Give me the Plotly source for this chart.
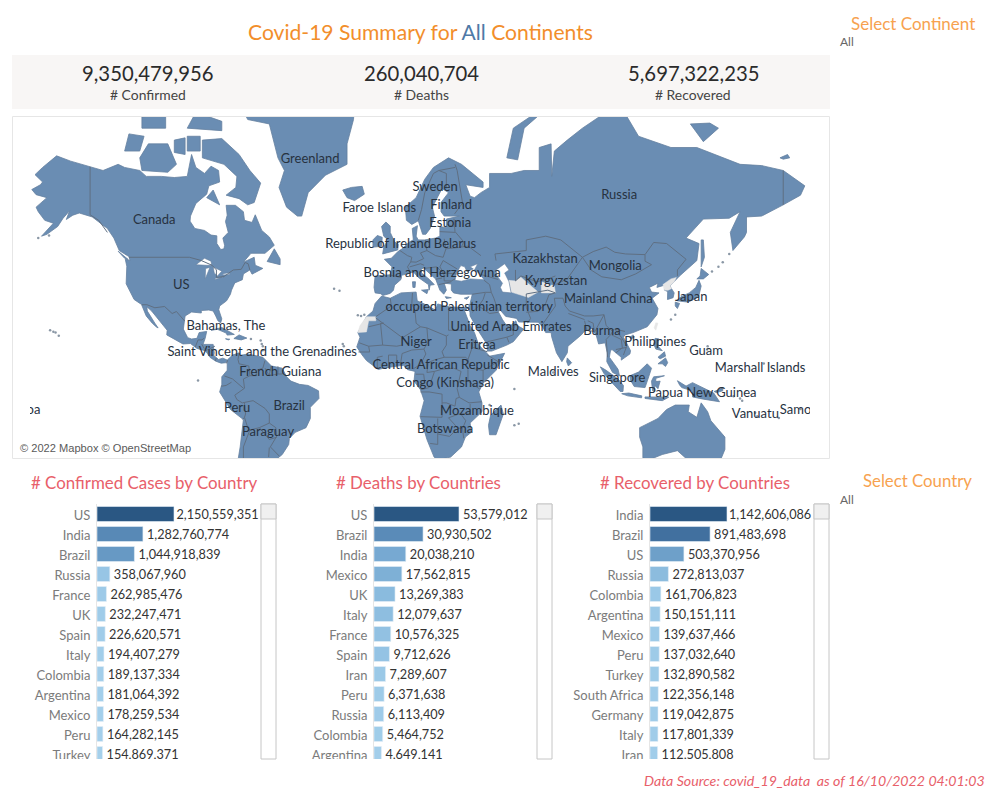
import numpy as np
import plotly.graph_objects as go

FONT = "Lato"
W, H = 1002, 802

# ---------- bar chart data ----------
confirmed_countries = ["US","India","Brazil","Russia","France","UK","Spain","Italy","Colombia","Argentina","Mexico","Peru","Turkey"]
confirmed_values = [2150559351,1282760774,1044918839,358067960,262985476,232247471,226620571,194407279,189137334,181064392,178259534,164282145,154869371]
deaths_countries = ["US","Brazil","India","Mexico","UK","Italy","France","Spain","Iran","Peru","Russia","Colombia","Argentina"]
deaths_values = [53579012,30930502,20038210,17562815,13269383,12079637,10576325,9712626,7289607,6371638,6113409,5464752,4649141]
recovered_countries = ["India","Brazil","US","Russia","Colombia","Argentina","Mexico","Peru","Turkey","South Africa","Germany","Italy","Iran"]
recovered_values = [1142606086,891483698,503370956,272813037,161706823,150151111,139637466,137032640,132890582,122356148,119042875,117801339,112505808]
kpi_values = ["9,350,479,956","260,040,704","5,697,322,235"]
kpi_names = ["# Confirmed","# Deaths","# Recovered"]

# ---------- map labels: name, longitude, mercator y ----------
label_names = ["Greenland","Sweden","Faroe Islands","Finland","Estonia","Republic of Ireland","Belarus","Canada","Russia","Kazakhstan","Mongolia","Kyrgyzstan","Bosnia and Herzegovina","Mainland China","Japan","US","occupied Palestinian territory","United Arab Emirates","Burma","Bahamas, The","Saint Vincent and the Grenadines","Niger","Eritrea","Philippines","Guam","Marshall Islands","Central African Republic","Maldives","French Guiana","Singapore","Congo (Kinshasa)","Papua New Guinea","Peru","Brazil","Mozambique","Vanuatu","Samoa","Samoa","Paraguay","Botswana"]
label_lon = [-39.1,18.8,-7.1,26.2,25.8,-7.6,28,-111.3,104,69.7,102.2,74.8,17.4,99,137.4,-98.8,34.6,54,96.1,-78.1,-61.3,10,38.2,120.7,144.3,169.3,21.6,73.5,-52.9,103.1,23.4,142.5,-72.9,-48.8,38.2,167.1,187.2,-172.8,-58.6,23.4]
label_merc = [1.771,1.544,1.374,1.399,1.254,1.083,1.083,1.277,1.480,0.963,0.906,0.784,0.849,0.639,0.655,0.752,0.574,0.412,0.380,0.421,0.210,0.291,0.267,0.291,0.218,0.081,0.105,0.049,0.049,0.000,-0.040,-0.121,-0.242,-0.226,-0.267,-0.291,-0.258,-0.258,-0.436,-0.412]

# ---------- map outlines (lon, lat) ----------
north_america = [(-168,65.6),(-164,66.5),(-163,67),(-166.5,68.3),(-163,69.5),(-156.5,71.3),(-150,70.5),(-141,69.6),(-135,69),(-128,70),(-125,69.5),(-118,69),(-115,68),(-108,68),(-102,67.8),(-96,68),(-94,71.5),(-92,69.5),(-88,68.5),(-85,69.7),(-81.5,69),(-81,67),(-86,66.3),(-87,64.7),(-92,62.8),(-94.5,60),(-94.7,58.8),(-92.5,57),(-88,56.5),(-85,55.3),(-82.3,55.1),(-82.3,53),(-80.5,51.3),(-79,51.5),(-78.7,52.5),(-79.5,54.5),(-77,56),(-78.3,58.7),(-77.5,60.2),(-78,62.4),(-73.7,62.4),(-70,61),(-69.5,59),(-66,58.5),(-64.5,60.3),(-61.5,56.5),(-58,54.8),(-55.7,52.5),(-60,50.2),(-66.5,50.2),(-70,47.5),(-65,49),(-64.5,46.5),(-61,45.5),(-66,43.6),(-67,45),(-70,43.7),(-70.5,41.7),(-74,40.6),(-75.5,38),(-76,36.5),(-77.8,34),(-81,32),(-81.4,30.5),(-80,26.8),(-80.5,25.2),(-81.8,26),(-82.8,28),(-84,30),(-86,30.4),(-89.5,30.2),(-89.5,29.2),(-91.5,29.5),(-94,29.6),(-97,28),(-97.5,25),(-97.8,22.5),(-95.8,18.8),(-94,18.2),(-91.5,18.5),(-90.5,21),(-87,21.5),(-87.7,18.5),(-88.7,15.8),(-84,15.8),(-83.5,12),(-83.7,10.8),(-81.5,9),(-79.5,9.6),(-77.5,8.7),(-78.2,7.5),(-80.3,7.3),(-82.8,8.2),(-85.5,10),(-87.5,12.9),(-91.5,14),(-94.5,16.2),(-98,16),(-102,18),(-105.5,20),(-105.3,22),(-109,26),(-112.5,30),(-114.7,31.7),(-114.5,30),(-111,25),(-109.5,23),(-110.3,23.4),(-112.2,25),(-115,28),(-116,30.5),(-117.2,32.6),(-120.6,34.5),(-122,37),(-124.3,40.3),(-124,46.2),(-124.7,48.4),(-122.5,48),(-123,49.2),(-127.5,51),(-130,54.5),(-133,57),(-137,58.7),(-140,59.8),(-146,60.7),(-149,60.2),(-152,59.2),(-150.5,61.2),(-153.5,59.5),(-156,57.5),(-161,55.5),(-163.5,55),(-158,58.3),(-162,59),(-165,61),(-166,62),(-161,64),(-166,64.6)]
baffin = [(-80,73.7),(-72,71.5),(-67,69),(-62,66.8),(-65,63),(-68,62.5),(-72,63.8),(-78,64.5),(-73.5,66),(-73,68),(-79,70),(-89,71),(-89,73.5)]
victoria = [(-117,69),(-105,68.7),(-101,70),(-105,73),(-114,73),(-118,71)]
banks = [(-125,72),(-118,72),(-116,74),(-123,74.3)]
melville = [(-117,75),(-106,75),(-106,76.5),(-117,76.3)]
devon = [(-96,75),(-80,74.7),(-80,75.8),(-92,76.8)]
ellesmere = [(-90,76.5),(-78,76.5),(-75,78.5),(-62,82),(-70,83.1),(-90,82),(-92,80)]
somerset = [(-96,72),(-90,72),(-90,74),(-96,74)]
prince_of_wales = [(-102,71.8),(-97,71.5),(-97,73.8),(-102,73.5)]
southampton = [(-87,64),(-81,62.5),(-84,65.5)]
newfoundland = [(-59,47.7),(-53,46.7),(-53,48.5),(-55.7,51.5)]
vancouver = [(-128,50.8),(-123.3,48.3),(-125,48.7)]
greenland = [(-73,78.2),(-68,76),(-58,75.5),(-54,71),(-51,69),(-53.5,66),(-50,62),(-45,60),(-43,60),(-40,65),(-32,68.2),(-22,70),(-22,73),(-19,76),(-18,79.5),(-12,81.5),(-30,83.6),(-60,82.5),(-65,81)]
iceland = [(-24,65.5),(-22,64),(-18.5,63.4),(-14,64.7),(-15,66.2),(-20,66)]
cuba = [(-85,22),(-80,23.2),(-74.2,20.2),(-77.5,19.9),(-78,20.8),(-82,22.4)]
hispaniola = [(-74.4,18.4),(-72,20),(-68.4,18.6),(-71,17.8)]
jamaica = [(-78.3,18.3),(-76.3,18.1),(-77,17.8)]
south_america = [(-77.5,8.7),(-75,11),(-72,12),(-71.5,10.8),(-68,11.5),(-64,10.5),(-61,10),(-57,6),(-52,5),(-50,1),(-48,-1),(-44,-2.5),(-40,-3),(-35.2,-5.5),(-35,-9),(-39,-13),(-39,-18),(-41,-22),(-46,-24),(-48.7,-26.5),(-49,-29),(-52,-33),(-55,-35),(-58,-34.5),(-57,-37),(-62,-39),(-65,-42),(-67,-46),(-68,-54),(-74,-51),(-73.5,-40),(-71.5,-30),(-70,-18.5),(-76,-14),(-81,-6),(-80,-2.5),(-80,1),(-77.5,4),(-77.5,7)]
africa = [(-6,35.8),(-2,35),(3,37),(10,37.3),(10.5,34),(15,32.3),(19,30.3),(20,32.8),(25,31.7),(32,31.2),(34.2,31.3),(32.5,29.9),(35,24),(37,21),(39,15.5),(43,11.6),(44,10.5),(51,11.8),(47,4),(41,-2),(39,-6),(40.5,-11),(40.5,-15),(35,-20),(35.5,-24),(32.8,-26),(31,-30),(26,-34),(20,-35),(18.3,-34),(15,-27),(11.8,-17),(13.7,-10),(12,-5),(9,-1),(9.5,3.5),(6,4.3),(4,6.3),(1,6),(-4,5.2),(-7.5,4.4),(-13,8.5),(-15,11),(-17.5,14.7),(-16,19),(-17,21),(-13,27.7),(-10,30),(-9,33)]
madagascar = [(49.3,-12),(50.4,-16),(47,-25),(44,-25),(43.5,-21),(44.5,-16.5)]
eurasia = [(-9,37),(-9.5,39),(-9,43),(-2,43.4),(-1.2,46),(-4.7,48.4),(-1.5,48.7),(1.7,50.8),(3.5,51.5),(7,53.5),(8.7,54),(8.2,57),(10.6,57.7),(10,55),(11,54),(14,54),(19,54.5),(21,55),(21,57.5),(24,57.2),(24,59.3),(30,60),(23,60),(21.5,61),(21.5,63),(25,65),(22,65.8),(17.5,62),(18.5,60),(16.5,57),(14.5,55.5),(13,55.5),(11,58.9),(8,58),(5.5,59),(5,62),(10,64),(14,67.5),(18,69.5),(25,71),(31,70),(41,67),(41,66),(33,66.5),(35,64.3),(37,64),(40,65),(44,66),(44,68.5),(54,68.5),(60,69),(67,69),(67,72.5),(72.5,73),(72.8,68),(74,72),(80,73.5),(87,75),(104,77.7),(113,74),(128,72.5),(140,72.5),(160,70),(170,69.8),(180,69),(190,66.3),(188,64.5),(180,62.5),(170,60),(163,59.8),(163,56),(162,54.8),(156.7,51),(155.5,56),(160,61),(155,59.5),(143,59.3),(135,54.5),(141,53),(140,48),(132,43),(129.5,41),(127.5,39.5),(129.5,37),(129,35.2),(126.4,34.5),(126.5,37.5),(125,38),(125,39.8),(121.5,39),(122,40.5),(118,39),(119,37.3),(122.5,37),(119.3,35),(122,31),(121.5,28.5),(117,23.5),(110.5,21),(106.7,20),(106,19),(109.3,13),(109,11.5),(105,8.7),(105,10),(100.7,13.5),(100,13),(99.5,10),(103.5,4.5),(104.2,1.4),(101,3),(98.3,8),(98.5,12),(97.5,16.5),(94.5,16),(93.5,19.5),(91.5,22.7),(88,21.7),(86.5,20),(80.3,15),(80,12),(77.5,8),(75,12),(72.8,19),(72.5,21),(70,21),(68.5,23.5),(66.5,25.4),(57.5,25.5),(56.5,27),(51.5,27.8),(49,30.3),(48,29.8),(50,26.5),(51.5,24.5),(54,24.2),(56.2,26),(56.8,24),(59.8,22.5),(55,17),(52,15.5),(45,12.8),(43,12.8),(42.7,16),(39,21.5),(35,28),(34.9,29.5),(34.2,31.3),(35,33),(36,36.5),(30.5,36.5),(27.3,37),(26.3,38),(26.3,40.2),(23,40.5),(24,38),(22.8,36.5),(21,38),(19.4,41),(19,42),(13.5,45.6),(12.3,45.3),(12.5,44),(16,41.9),(18.4,40),(16.5,39.8),(16,38),(15.7,40),(11,42.5),(8.8,44.3),(3.2,43.2),(3,41.8),(0,39.8),(-0.5,38),(-2,36.8),(-5.5,36),(-6.3,36.7)]
britain = [(-5.5,50),(1.5,51.2),(1.7,52.8),(0,53.5),(-2,56),(-2,57.6),(-4,58.6),(-6,57.5),(-5,55),(-3,54),(-5,52)]
ireland = [(-10,52),(-6,52.2),(-5.7,54.7),(-8,55.2),(-10,54)]
novaya_zemlya = [(52,71),(57,70.7),(60,75),(68,76.7),(64,76.5),(55,75)]
svalbard = [(14,77),(22,78),(27,80),(18,80.3),(11,79)]
wrangel = [(178.5,71),(182,71.5),(183,71),(180,70.8)]
new_siberian = [(137,75.5),(143,73.3),(150,75),(146,75.6)]
honshu = [(130.9,34),(136,33.5),(140.8,35.5),(142,39.5),(141,41.5),(139.5,39),(136.5,37),(132.5,35.5)]
hokkaido = [(140,42),(143,42),(145.5,43.5),(142,45.5),(141.5,43)]
kyushu = [(130,33.5),(132,33),(131,31),(130,32)]
sakhalin = [(142,46),(143.5,49),(143,54),(142,54),(142,50)]
sri_lanka = [(80,9.7),(82,7.5),(80.5,6),(79.7,8)]
hainan = [(109,19),(110.5,20),(111,19),(109.5,18.2)]
luzon = [(120,16),(120.7,18.5),(122.3,18.3),(122,15),(124,13),(121,13.7)]
mindanao = [(122,7),(125.5,9.7),(126.5,7.5),(125.5,5.8),(124,7)]
visayas = [(122,10),(125,12.5),(125.5,10.5),(123,9.3)]
sumatra = [(95.3,5.6),(98,4),(103.5,0),(106,-3),(105.8,-5.8),(104.5,-5.8),(100.5,-1.5),(97,2.5)]
java = [(105.2,-6.8),(108.5,-6.5),(114.5,-7.8),(114.4,-8.7),(108,-7.8)]
borneo = [(109,1.5),(113,3.2),(117,7),(119,5),(117.7,1),(116,-4),(111,-3.5),(109.2,-0.5)]
sulawesi = [(119.5,-5.5),(119,-1),(120,1),(125,1.5),(121,0.3),(121,-1.2),(123,-1),(122,-4.5),(120.5,-3),(120.4,-5.5)]
new_guinea = [(131,-0.8),(135,-3.3),(138,-1.7),(145,-5),(147.8,-6.5),(150.5,-10.5),(147,-10),(143,-9.3),(138,-8.3),(138,-5.5),(133,-4),(132,-2.8)]
new_britain = [(148,-5.8),(152,-4.2),(152,-5.5),(149,-6.3)]
sunda = [(116,-8.3),(123,-8.3),(125,-8.5),(127,-8.4),(124,-10),(120,-9.5),(116,-9)]
australia = [(113.5,-22),(122,-18),(126,-14),(130,-12),(136.5,-12),(136,-15),(140,-17.5),(142,-11),(145,-15),(146.5,-19),(153,-26),(153,-31),(150,-37),(146,-39),(140,-38),(138,-35),(136,-35),(135,-34.5),(131,-31.5),(124,-33),(118,-35),(115,-34.3),(115,-30),(113.5,-26)]
sicily = [(12.5,38),(15.6,38.2),(15,36.7)]
sardinia = [(8.3,41),(9.7,41),(9.5,39),(8.5,39)]
crete = [(23.5,35.6),(26.3,35.2),(24,34.9)]
cyprus = [(32.3,35),(34.5,35.6),(33.5,34.6)]
land_shapes = [north_america,baffin,victoria,banks,melville,devon,ellesmere,somerset,prince_of_wales,southampton,newfoundland,vancouver,greenland,iceland,cuba,hispaniola,jamaica,south_america,africa,madagascar,eurasia,britain,ireland,novaya_zemlya,svalbard,wrangel,new_siberian,honshu,hokkaido,kyushu,sakhalin,sri_lanka,hainan,luzon,mindanao,visayas,sumatra,java,borneo,sulawesi,new_guinea,new_britain,sunda,australia,sicily,sardinia,crete,cyprus]

western_sahara = [(-13,27.7),(-8.7,27.7),(-8.7,26),(-12,26),(-13,21.3),(-17,21),(-16,24)]
turkmenistan = [(52.8,41.5),(56,41.3),(58.5,42.6),(61,41),(66,38),(66.5,37.3),(62,35.3),(54,37.3)]
tajikistan = [(68,37),(74.5,37),(74,39.5),(68,41)]
north_korea = [(124.3,40),(128,42),(130.5,42.5),(129.5,41),(127.5,39.5),(128.3,38.6),(126.7,38),(125,38)]
taiwan = [(120.2,23),(121,22),(122,25),(121,25.2)]
no_data_shapes = [western_sahara,turkmenistan,tajikistan,north_korea,taiwan]

black_sea = [(28,41.5),(31,41.2),(35,42),(41.5,41.7),(39,44),(37,45),(38.5,47),(35,46),(36.5,45.3),(33.5,44.5),(32.5,46),(30.7,46.4),(28.7,44)]
caspian = [(47,45),(51,47),(53,45),(51,44),(53,41),(54,37),(50,37.3),(49,39),(50,40.5),(47.5,43)]
superior = [(-92,46.7),(-88,48.7),(-85,47.8),(-84.7,46.5),(-87,46.5)]
michigan = [(-87.7,42),(-85.5,45.8),(-87.5,45.5)]
huron = [(-84,46),(-80,44.6),(-82,43),(-83.5,44)]
erie = [(-83.3,41.7),(-79,42.8),(-79.5,42.6),(-83,42.2)]
ontario = [(-79.7,43.3),(-76.3,43.5),(-76.5,44.1),(-79,43.8)]
water_shapes = [black_sea,caspian,superior,michigan,huron,erie,ontario]

border_lines = [
 [(-141,69.6),(-141,60.3),(-137,59),(-133,56)],
 [(-123,49),(-95,49),(-89.5,48),(-84.5,46.5),(-82.5,45),(-82.5,42.5),(-79,42.8),(-76.5,44),(-74.7,45),(-71,45.2),(-69.2,47.4),(-67.8,47),(-67,45)],
 [(-117,32.5),(-114.7,32.5),(-111,31.3),(-108,31.5),(-106.5,31.8),(-103,29),(-101,29.8),(-97.2,25.9)],
 [(-92.3,14.6),(-91,17.8),(-89.2,17.8),(-88.3,18.5)],[(-89.3,15.9),(-88.2,14)],[(-87.5,13),(-83.2,15)],[(-85.7,11),(-83.7,11)],[(-83,8.3),(-82.6,9.6)],
 [(-77.3,8.6),(-77.9,7.2)],[(-72,12),(-72.5,9),(-72,7),(-67.5,6),(-67,1.5)],[(-60,8.5),(-61,5),(-64,4),(-64,1.5),(-67,1.5)],[(-57.2,6),(-58,2)],[(-54,5.8),(-54,2.3)],[(-60,5),(-58,1.5),(-54,2.3),(-52,2.3),(-51.7,4)],
 [(-67,1.5),(-70,0),(-69.5,-4.3),(-74,-7.5),(-73,-9.5),(-70.5,-11),(-65.5,-10),(-60,-13.5),(-58,-16),(-58,-20),(-55,-22),(-54.5,-25.5),(-57.5,-30),(-53.3,-33.7)],
 [(-78.8,1.4),(-75,0),(-70,-4.3)],[(-80.3,-3.4),(-78,-3),(-75.5,-1.5)],[(-69.5,-11),(-69,-16),(-69.5,-17.5),(-70.4,-18.4)],[(-69.5,-17.5),(-68,-22),(-67,-23)],[(-67,-23),(-70,-30),(-70,-35),(-71,-40)],[(-62.6,-22),(-58,-27),(-54.5,-26)],[(-67,-23),(-62.6,-22),(-58,-20)],[(-58.3,-34),(-58,-30.2)],
 [(-2,35),(-1.5,32),(-8.7,27.7)],[(8.3,37),(8,33),(9.5,30),(11.5,32)],[(9.5,30),(10,25),(12,23.5)],[(25,31.7),(25,22)],[(25,20),(24,19.5)],[(24,19.5),(15,23),(12,23.5)],[(12,23.5),(4,19),(3.3,19),(-5,25),(-8.7,27.2)],[(-12,23.5),(-5,25),(-6.5,25),(-5.5,15.5),(-12,15),(-16.3,16.5)],[(3.3,19),(3.5,15.5),(1,15),(-5.5,15.5)],[(3.5,11.7),(8,13.3),(13.6,13.7),(15.5,16.9),(15,23)],[(24,19.5),(24,15.5),(22,12.5),(23,10)],[(15.5,7.5),(18.5,8.8),(23,10)],[(8.7,4.7),(12,6.7),(14.5,11.5),(13.6,13.7)],[(15.5,7.5),(15,3)],[(15,3),(18.5,3.5),(22,4.5),(27.4,5),(30.8,3.5),(29.6,-1),(29,-4.5),(30,-8.5),(28.5,-9),(28,-12.5),(24,-11),(22,-11),(22,-7),(16,-6),(12,-6)],[(18.5,3.5),(16,-4),(12.2,-5)],[(9.8,2.2),(13.5,2.2),(14,-2),(11,-3.5)],[(23,10),(33,10),(34,9)],[(25,22),(36.8,22)],[(36,14.5),(34,9),(35,5),(41,4),(48,8),(43,11)],[(36.5,18),(36,14.5),(43,12.5)],[(34,4.5),(34,-1),(39.5,-4.7)],[(41,-1.7),(41,4)],[(34,-1),(29.6,-1)],[(30,-8.5),(34.5,-11),(40.4,-10.5)],[(22,-11),(22,-17.5),(12,-17.2)],[(20,-18),(20,-24.7),(20,-29),(16.5,-28.6)],[(20,-24.7),(25.5,-25.7),(29.3,-22.2)],[(25,-17.7),(29.3,-22.2),(31.5,-22.3),(33,-19),(30.5,-15.8),(25,-17.7)],[(30.5,-15.8),(35,-16),(35,-11.5)],[(31.5,-22.3),(32,-26.5)],[(-8,4.5),(-8,10),(-5.5,10.5)],[(-2.8,5),(-2.8,11),(1,11),(1,6)],[(2.7,6.4),(3.5,11.7)],[(-16.7,12.4),(-11.5,12.4),(-12,15)],
 [(-1.8,43.3),(3.2,42.4)],[(2.5,51),(6,49.5),(8,49),(7.5,47.6),(6,46),(7.5,44)],[(14.2,54),(15,51),(12,50.3),(13.5,48.6),(10,47.5),(7.5,47.6)],[(23,54.3),(23.8,51.5),(22.5,49),(19,49.5),(15,51)],[(7,46),(12,47),(13.7,46.5)],[(40,49.5),(34,52.3),(31,52),(23.8,51.5)],[(22.5,48),(29,45.3)],[(22.5,48),(21,46),(22.8,44),(28.5,43.7)],[(22.8,44),(23,41.3),(26.3,41.3),(28,42)],[(20.5,40),(26.3,41)],[(13.7,45.5),(19.5,46),(22.5,44)],[(19.2,41.9),(22,42.3)],[(31,52),(32,53.5),(28,56.2),(27.5,59.4)],[(24.4,58),(27.5,57.5)],[(21,56.2),(28,56)],[(27.8,60.5),(31.5,62.9),(29,69),(28,70)],[(11,59),(12.5,61.5),(14,65),(18,68.5),(20.5,69),(28,69.5)],[(24,65.8),(24,68.5),(20.5,69)],
 [(36,36.5),(42,37.2),(44.8,37.2)],[(44.8,37.2),(44,40),(41.5,41.5)],[(44.8,37.2),(46,35),(48,30)],[(48,29.5),(44,29),(39,32),(36,29.5)],[(42,37),(41,34.5),(39,32)],[(43,17),(52,19),(55,20),(55,22),(52,24)],[(55,22),(56,24.5)],[(52,19),(53,16.7)],[(61,36.6),(61,31.5),(63,27),(61.6,25)],[(61,29.5),(66.5,29.9),(70,33),(71.5,36.3),(74.5,37)],[(61,36.6),(66.5,37.3),(71,38),(74.5,37)],[(68,23.8),(71,27.5),(74.5,32),(74,35),(78,35)],[(78,35),(79,32),(81,30),(88,28),(92,28),(97,28.5)],[(80.5,29),(88,26.5)],[(88,26),(89,22),(92.5,21.5),(92,25),(89.5,26)],[(97,28.5),(94.5,24.5),(92.5,21)],[(97,28.5),(98,24),(101,21.5),(101.5,22.5)],[(102,22.5),(105,19),(107.5,15),(106,11)],[(101,21.5),(100,20),(98,18),(98.7,10)],[(100.5,20),(105,18),(105.5,14.3),(102.5,12)],[(102.5,13.5),(107.5,14.5)],[(102,22.5),(106.7,21.5)],
 [(47,48),(46.5,50),(61,51),(61,54),(70,55),(77,54),(87,49)],[(87,49),(80,42),(74.5,40)],[(87,49),(91,45),(96,42.7),(105,41.7),(111.7,43.7),(119,46.7),(116,47.8),(116,49.8)],[(87,49),(92,50.7),(98,52),(102,50.5),(107,50),(116,49.8)],[(116,49.8),(120,53.3),(126,53),(135,48.4),(131,45),(131,43)],[(56,45),(56,41.3),(58.5,43),(66,41),(71,42),(74.5,43)],[(40,43.5),(48,41.8)],[(180,69),(180,62.5)],
]

small_islands_lon = [-155.5,-157,-158,-159.5,-91,-15.5,-14,-17,-25.5,-28,-24,-23.5,157,160,161,167,168,178,188,-61,-61,-61.5,57.5,55.5,44,55.5,-165,-160,147,150,152,155,145,144.8,128,130,73.5,171,-66.5,-62]
small_islands_lat = [19.6,21,21.4,22,-0.7,28,28.5,28.3,37.8,38.5,16,15,-8,-9,-10,-15.5,-17,-17.8,-13.8,13.2,15,16,-20.3,-21,-12,-4.7,54.5,55.2,44.5,46,47.5,50,15,13.5,26.5,28.5,3,7.1,18.2,17.5]

def merc(lat):
    return np.log(np.tan(np.pi / 4 + np.radians(np.asarray(lat, float)) / 2))

def coords(shapes, close=True):
    xs, ys = [], []
    for s in shapes:
        pts = list(s) + ([s[0]] if close else [])
        xs += [p[0] for p in pts] + [None]
        ys += [float(merc(p[1])) for p in pts] + [None]
    return xs, ys

def xp(x): return x / W
def yp(y): return 1 - y / H

fig = go.Figure()
MAP_BLUE = "#6a8db3"
BORDER = "#5f6f82"

x, y = coords(land_shapes)
fig.add_trace(go.Scatter(x=x, y=y, mode="lines", fill="toself", fillcolor=MAP_BLUE, line=dict(color="#64809f", width=0.8), xaxis="x", yaxis="y"))
x, y = coords(no_data_shapes)
fig.add_trace(go.Scatter(x=x, y=y, mode="lines", fill="toself", fillcolor="#e6e6e6", line=dict(color="#e6e6e6", width=0.5), xaxis="x", yaxis="y"))
x, y = coords(water_shapes)
fig.add_trace(go.Scatter(x=x, y=y, mode="lines", fill="toself", fillcolor="#ffffff", line=dict(color="#64809f", width=0.6), xaxis="x", yaxis="y"))
x, y = coords(border_lines, close=False)
fig.add_trace(go.Scatter(x=x, y=y, mode="lines", line=dict(color=BORDER, width=1), xaxis="x", yaxis="y"))
fig.add_trace(go.Scatter(x=small_islands_lon, y=merc(small_islands_lat), mode="markers", marker=dict(color="#8a97a5", size=2.5), xaxis="x", yaxis="y"))
fig.add_trace(go.Scatter(x=label_lon, y=label_merc, mode="text", text=label_names, textposition="middle center",
                         textfont=dict(family=FONT, size=13, color="#27323f"), xaxis="x", yaxis="y"))

blue_scale = [[0,"#b0d8f0"],[0.17,"#96c5e5"],[0.37,"#78aad2"],[0.58,"#5a8bb8"],[0.78,"#41709f"],[1,"#2a5783"]]
charts = [
    (confirmed_countries, confirmed_values, 97, 261, 77, 2.5),
    (deaths_countries, deaths_values, 374, 537, 85, 4.0),
    (recovered_countries, recovered_values, 650, 814, 77, 2.0),
]
layout_axes = {}
for i, (names, vals, x0, x1, bar_px, first_gap) in enumerate(charts, start=2):
    xmax = vals[0] * (x1 - x0) / bar_px
    ranks = list(range(len(names)))
    per_px = xmax / (x1 - x0)
    gaps = [first_gap] + [4.0] * (len(vals) - 1)
    fig.add_trace(go.Bar(
        x=vals, y=ranks, orientation="h", width=0.75,
        marker=dict(color=vals, colorscale=blue_scale, cmin=0, cmax=vals[0], line=dict(color="#e4eef6", width=0.6)),
        xaxis=f"x{i}", yaxis=f"y{i}"))
    fig.add_trace(go.Scatter(
        x=[v + g * per_px for v, g in zip(vals, gaps)], y=[r + 0.09 for r in ranks], mode="text", text=[f"{v:,}" for v in vals], textposition="middle right",
        textfont=dict(family=FONT, size=12.7, color="#333333"), xaxis=f"x{i}", yaxis=f"y{i}"))
    layout_axes[f"xaxis{i}"] = dict(domain=[xp(x0), xp(x1)], range=[0, xmax], visible=False, fixedrange=True, anchor=f"y{i}", automargin=False)
    layout_axes[f"yaxis{i}"] = dict(domain=[yp(759), yp(504)], tickmode="array", tickvals=ranks, ticktext=names,
                                    range=[12.25, -0.5], anchor=f"x{i}", showgrid=False, zeroline=False, automargin=False,
                                    showline=True, linecolor="#e6e6e6", linewidth=1, ticks="outside", ticklen=3,
                                    ticklabelshift=-1, tickcolor="rgba(0,0,0,0)",
                                    tickfont=dict(family=FONT, size=13, color="#7b7b7b"), fixedrange=True)

shapes = [
    dict(type="rect", xref="paper", yref="paper", x0=xp(12), x1=xp(830), y0=yp(109), y1=yp(55), fillcolor="#f8f6f5", line=dict(width=0), layer="below"),
    # the map pane clips the wrapped Samoa labels
    dict(type="rect", xref="paper", yref="paper", x0=xp(13), x1=xp(30), y0=yp(418), y1=yp(398), fillcolor="#ffffff", line=dict(width=0), layer="above"),
    dict(type="rect", xref="paper", yref="paper", x0=xp(810), x1=xp(829), y0=yp(418), y1=yp(398), fillcolor="#ffffff", line=dict(width=0), layer="above"),
    # the scrolling pane cuts off the last row
    dict(type="rect", xref="paper", yref="paper", x0=0, x1=xp(830), y0=yp(772), y1=yp(759), fillcolor="#ffffff", line=dict(width=0), layer="above"),
    dict(type="rect", xref="paper", yref="paper", x0=xp(12.5), x1=xp(829.5), y0=yp(458.5), y1=yp(116.5), fillcolor="rgba(0,0,0,0)", line=dict(color="#e6e6e6", width=1), layer="above"),
]
for sx in (261, 537, 814):
    shapes.append(dict(type="rect", xref="paper", yref="paper", x0=xp(sx), x1=xp(sx + 15), y0=yp(759), y1=yp(504), fillcolor="#ffffff", line=dict(color="#c6c6c6", width=1), layer="above"))
    shapes.append(dict(type="rect", xref="paper", yref="paper", x0=xp(sx), x1=xp(sx + 15), y0=yp(519), y1=yp(504), fillcolor="#f0f0f0", line=dict(color="#c6c6c6", width=1), layer="above"))

def note(text, x, y, size, color, anchor="center", **kw):
    return dict(text=text, xref="paper", yref="paper", x=xp(x), y=yp(y), xanchor=anchor, yanchor="middle", showarrow=False,
                font=dict(family=kw.pop("family", FONT), size=size, color=color), **kw)

ORANGE = "#f28e2b"
RED = "#e8606a"
annotations = [
    note('Covid-19 Summary for <span style="color:#4e79a7">All</span> Continents', 420.5, 32, 21.1, ORANGE),
    note("Select Continent", 913, 23, 17, "#f7a24f"),
    note("All", 838, 42, 12, "#666666", anchor="left"),
    note("Select Country", 917.5, 480, 16.8, "#f7a24f"),
    note("All", 838, 499, 12, "#666666", anchor="left"),
    note("# Confirmed Cases by Country", 144, 483, 16.9, RED),
    note("# Deaths by Countries", 418, 483, 16.9, RED),
    note("# Recovered by Countries", 695, 483, 16.9, RED),
    note("<i>Data Source: covid_19_data  as of 16/10/2022 04:01:03</i>", 987, 780, 14.2, "#e8606a", anchor="right"),
    note("© 2022 Mapbox © OpenStreetMap", 18, 448.5, 11.1, "#5a5a5a", anchor="left", family="Liberation Sans", bgcolor="rgba(255,255,255,0.8)"),
]
for kx, val, name in zip((147.5, 421, 693), kpi_values, kpi_names):
    annotations.append(note(val, kx, 73, 20.3, "#2b2b2b"))
    annotations.append(note(name, kx, 94, 13.9, "#444444"))

fig.update_layout(
    width=W, height=H, autosize=False, margin=dict(l=0, r=0, t=0, b=0, autoexpand=False),
    paper_bgcolor="#ffffff", plot_bgcolor="#ffffff", showlegend=False, hovermode=False,
    xaxis=dict(domain=[xp(13), xp(829)], range=[-176.7, 201.2], visible=False, fixedrange=True, anchor="y", automargin=False),
    yaxis=dict(domain=[yp(458), yp(117)], range=[-0.639, 2.118], visible=False, fixedrange=True, anchor="x", automargin=False),
    shapes=shapes, annotations=annotations, **layout_axes,
)
fig.write_html("out.html", config=dict(displayModeBar=False),
               post_script="document.body.style.margin='0';document.body.style.overflow='hidden';")
